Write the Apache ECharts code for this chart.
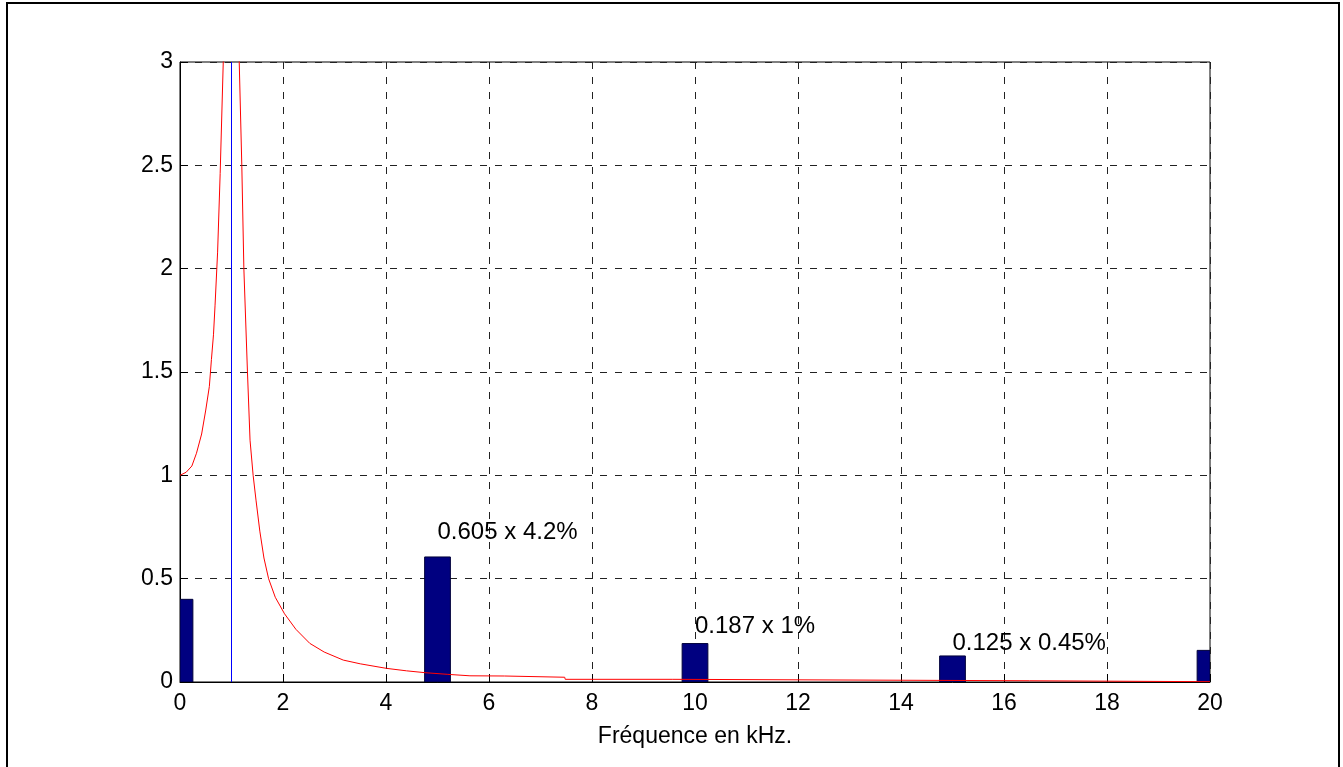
<!DOCTYPE html>
<html>
<head>
<meta charset="utf-8">
<script src="https://cdn.jsdelivr.net/npm/echarts@6/dist/echarts.min.js"></script>
<style>
html,body{margin:0;padding:0;background:#fff;}
#chart{width:1343px;height:767px;}
</style>
</head>
<body>
<div id="chart"></div>
<script>
// Data
var xTicks = [0, 2, 4, 6, 8, 10, 12, 14, 16, 18, 20];
var barFreq = [0, 5, 10, 15, 20];
var barValues = [0.40, 0.605, 0.186, 0.126, 0.153];
var curveFreq = [0, 0.12, 0.23, 0.32, 0.42, 0.50, 0.57, 0.61, 0.65, 0.68, 0.73, 0.78, 0.84, 0.9, 0.95, 1.05, 1.1, 1.15, 1.2, 1.24, 1.31, 1.36, 1.42, 1.476, 1.55, 1.63, 1.72, 1.85, 2.03, 2.25, 2.52, 2.8, 3.17, 3.5, 4.01, 4.4, 4.76, 5.2, 5.63, 6.3, 6.31, 7.47, 7.48, 9.57, 9.58, 16.5, 16.51, 20];
var curveValues = [1.0, 1.015, 1.045, 1.107, 1.20, 1.316, 1.43, 1.56, 1.68, 1.82, 2.08, 2.46, 3.0, 5.3, 10, 10, 4.8, 3.0, 2.5, 2.0, 1.5, 1.17, 1.0, 0.88, 0.73, 0.60, 0.50, 0.41, 0.33, 0.255, 0.187, 0.145, 0.106, 0.088, 0.066, 0.054, 0.045, 0.037, 0.030, 0.029, 0.023, 0.023, 0.013, 0.013, 0.006, 0.006, 0.0015, 0.0015];
var resonanceFreq = 1;
var annotFreq = [5, 10, 15];
var annotY = [0.725, 0.268, 0.187];
var annotText = ['0.605 x 4.2%', '0.187 x 1%', '0.125 x 0.45%'];
var xAxisTitle = 'Fréquence en kHz.';

var font = 'Liberation Sans, Arial, sans-serif';
var barHalfWidth = 0.25; // kHz
var chart = echarts.init(document.getElementById('chart'), null, {renderer: 'canvas'});

var curveData = curveFreq.map(function (f, i) { return [f, curveValues[i]]; });
var barData = barFreq.map(function (f, i) { return [f, barValues[i]]; });
var annotData = annotFreq.map(function (f, i) { return [f, annotY[i], annotText[i]]; });

function renderBar(params, api) {
  var f = api.value(0), v = api.value(1);
  var p0 = api.coord([f - barHalfWidth, v]);
  var p1 = api.coord([f + barHalfWidth, 0]);
  var cs = params.coordSys;
  var rect = echarts.graphic.clipRectByRect(
    {x: p0[0], y: p0[1], width: p1[0] - p0[0], height: p1[1] - p0[1]},
    {x: cs.x, y: cs.y, width: cs.width, height: cs.height}
  );
  if (!rect) return;
  return {
    type: 'rect', shape: rect,
    style: {fill: '#000080', stroke: '#00003a', lineWidth: 1}
  };
}

var option = {
  backgroundColor: '#fff',
  animation: false,
  graphic: [{
    type: 'rect',
    shape: {x: 7, y: 3, width: 1332, height: 800},
    style: {fill: 'none', stroke: '#000', lineWidth: 2},
    silent: true
  }],
  grid: {left: 180, right: 133, top: 62, bottom: 85, show: true, borderColor: '#000', borderWidth: 1, backgroundColor: 'transparent'},
  xAxis: {
    type: 'value', min: 0, max: 20, interval: 2,
    name: xAxisTitle, nameLocation: 'middle', nameGap: 43,
    nameTextStyle: {fontFamily: font, fontSize: 23, color: '#000'},
    axisLine: {show: true, onZero: false, lineStyle: {color: '#000', width: 1}},
    axisTick: {show: true, inside: true, length: 8, lineStyle: {color: '#000'}},
    axisLabel: {fontFamily: font, fontSize: 23, color: '#000', margin: 10},
    splitLine: {show: true, lineStyle: {color: '#222', type: [7, 8], width: 1}}
  },
  yAxis: {
    type: 'value', min: 0, max: 3, interval: 0.5,
    axisLine: {show: true, lineStyle: {color: '#000', width: 1}},
    axisTick: {show: true, inside: true, length: 8, lineStyle: {color: '#000'}},
    axisLabel: {fontFamily: font, fontSize: 23, color: '#000', margin: 7},
    splitLine: {show: true, lineStyle: {color: '#222', type: [7, 8], width: 1}}
  },
  series: [
    {
      type: 'custom', data: barData, renderItem: renderBar,
      encode: {x: 0, y: 1}, clip: true, z: 2
    },
    {
      type: 'line', data: curveData, showSymbol: false, symbol: 'none', clip: true,
      itemStyle: {color: '#ff0000'},
      lineStyle: {color: '#ff0000', width: 1}, z: 3
    },
    {
      type: 'line', data: [[resonanceFreq, 0], [resonanceFreq, 3]], showSymbol: false, symbol: 'none',
      itemStyle: {color: '#0000ff'}, color: '#0000ff',
      lineStyle: {color: '#0000ff', width: 1, opacity: 1}, z: 3
    },
    {
      type: 'scatter', data: annotData, symbolSize: 0,
      itemStyle: {opacity: 1},
      label: {
        show: true, position: 'right', distance: 0,
        fontFamily: font, fontSize: 24, color: '#000',
        formatter: function (p) { return p.value[2]; }
      },
      z: 4
    }
  ]
};
chart.setOption(option);
</script>
</body>
</html>
